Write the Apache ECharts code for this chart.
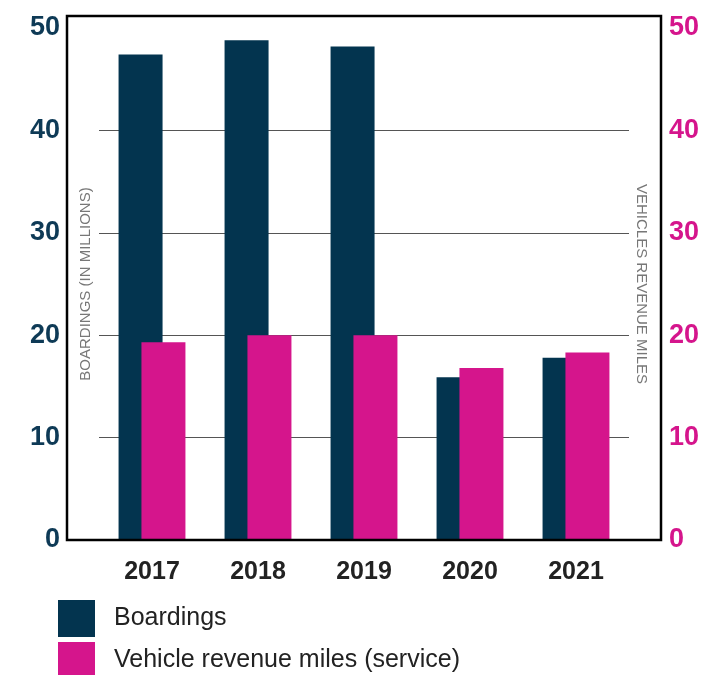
<!DOCTYPE html>
<html>
<head>
<meta charset="utf-8">
<script src="https://cdn.jsdelivr.net/npm/echarts@6/dist/echarts.min.js"></script>
<style>
  html, body { margin: 0; padding: 0; background: #fff; }
  #chart { width: 701px; height: 675px; }
</style>
</head>
<body>
<div id="chart"></div>
<script>
  // data
  let years = ['2017', '2018', '2019', '2020', '2021'];
  let boardings = [47.4, 48.8, 48.2, 15.9, 17.8];
  let revenueMiles = [19.3, 20.0, 20.0, 16.8, 18.3];
  let yTicks = [0, 10, 20, 30, 40, 50];
  let gridValues = [10, 20, 30, 40];
  let seriesNames = ['Boardings', 'Vehicle revenue miles (service)'];

  let navy = '#03344F';
  let pink = '#D5158C';
  let font = '"Liberation Sans", Arial, sans-serif';

  let legendText = { fontFamily: font, fontSize: 25, color: '#222', padding: [0, 0, 0, 14] };

  let chart = echarts.init(document.getElementById('chart'));
  let option = {
    backgroundColor: '#fff',
    animation: false,
    grid: { left: 99, right: 72, top: 28, bottom: 135, outerBoundsMode: 'none', containLabel: false },
    graphic: [
      // outer frame round the plot
      {
        type: 'rect',
        shape: { x: 67, y: 16, width: 594, height: 524 },
        style: { fill: 'none', stroke: '#000', lineWidth: 2.5 },
        z: 10
      }
    ],
    legend: [
      {
        left: 53, top: 595, itemWidth: 37, itemHeight: 37, icon: 'rect',
        textStyle: legendText, data: [seriesNames[0]]
      },
      {
        left: 53, top: 637, itemWidth: 37, itemHeight: 37, icon: 'rect',
        textStyle: legendText, data: [seriesNames[1]]
      }
    ],
    xAxis: {
      type: 'category',
      data: years,
      axisLine: { show: false },
      axisTick: { show: false },
      axisLabel: { fontFamily: font, fontSize: 25, fontWeight: 'bold', color: '#222', margin: 20 }
    },
    yAxis: [
      {
        type: 'value',
        min: yTicks[0],
        max: yTicks[yTicks.length - 1],
        interval: 10,
        name: 'BOARDINGS (IN MILLIONS)',
        nameLocation: 'middle',
        nameGap: 6,
        nameMoveOverlap: false,
        nameTextStyle: { fontFamily: font, fontSize: 15, color: '#777' },
        axisLine: { show: false },
        axisTick: { show: false },
        axisLabel: { fontFamily: font, fontSize: 27, fontWeight: 'bold', color: '#0e3a56', margin: 39 },
        splitLine: { show: false }
      },
      {
        type: 'value',
        min: yTicks[0],
        max: yTicks[yTicks.length - 1],
        interval: 10,
        position: 'right',
        name: 'VEHICLES REVENUE MILES',
        nameLocation: 'middle',
        nameGap: 5,
        nameRotate: -90,
        nameMoveOverlap: false,
        nameTextStyle: { fontFamily: font, fontSize: 15, color: '#777' },
        axisLine: { show: false },
        axisTick: { show: false },
        axisLabel: { fontFamily: font, fontSize: 27, fontWeight: 'bold', color: pink, margin: 40 },
        splitLine: { show: false }
      }
    ],
    series: [
      {
        name: seriesNames[0],
        type: 'bar',
        data: boardings,
        barWidth: 44,
        barGap: '-48%',
        itemStyle: { color: navy },
        z: 2,
        // horizontal rules at 10..40 (none at 50, the frame takes that place)
        markLine: {
          silent: true,
          symbol: 'none',
          label: { show: false },
          lineStyle: { color: '#555', width: 1, type: 'solid' },
          z: 1,
          data: gridValues.map(v => ({ yAxis: v }))
        }
      },
      {
        name: seriesNames[1],
        type: 'bar',
        yAxisIndex: 1,
        data: revenueMiles,
        barWidth: 44,
        itemStyle: { color: pink },
        z: 3
      }
    ]
  };
  chart.setOption(option);
</script>
</body>
</html>
